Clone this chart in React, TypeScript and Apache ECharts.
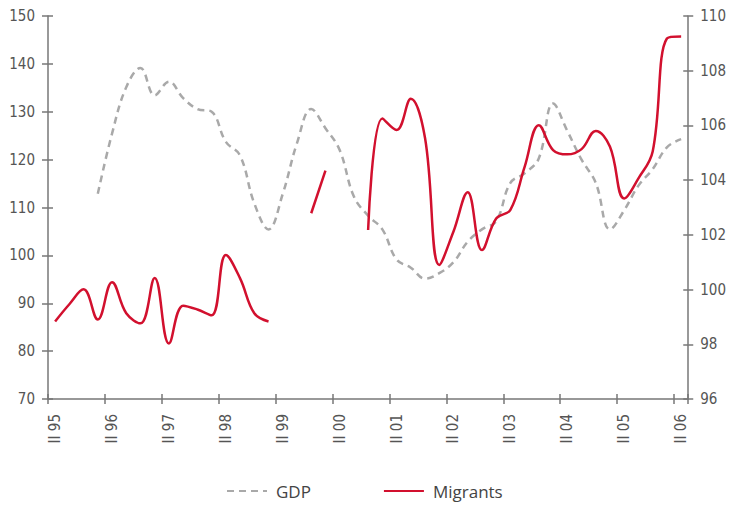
import React, { useEffect, useRef } from "react";
import * as echarts from "echarts";

const categories = [
  "II 95", "III 95", "IV 95", "I 96",
  "II 96", "III 96", "IV 96", "I 97",
  "II 97", "III 97", "IV 97", "I 98",
  "II 98", "III 98", "IV 98", "I 99",
  "II 99", "III 99", "IV 99", "I 00",
  "II 00", "III 00", "IV 00", "I 01",
  "II 01", "III 01", "IV 01", "I 02",
  "II 02", "III 02", "IV 02", "I 03",
  "II 03", "III 03", "IV 03", "I 04",
  "II 04", "III 04", "IV 04", "I 05",
  "II 05", "III 05", "IV 05", "I 06",
  "II 06",
];

// Migrants index (left axis)
const migrants = [
  86.2, 89.8, 92.9, 86.6,
  94.4, 87.9, 85.8, 95.3,
  81.6, 89.5, 88.7, 87.5,
  100.1, 95.2, 87.9, 86.2,
  null, null, 108.8, 117.7,
  null, null, 105.3, 128.6,
  126.2, 132.7, 124.5, 98.0,
  105.0, 113.2, 101.1, 107.7,
  109.5, 118.5, 127.2, 122.0,
  121.1, 122.2, 126.0, 122.7,
  111.9, 116.1, 121.7, 145.3,
  145.7,
];

// GDP index (right axis)
const gdp = [
  null, null, null, 103.5,
  105.7, 107.4, 108.1, 107.1,
  107.6, 107.0, 106.6, 106.5,
  105.4, 104.9, 103.15, 102.2,
  103.5, 105.35, 106.6, 105.9,
  105.1, 103.4, 102.7, 102.2,
  101.1, 100.8, 100.4, 100.6,
  101.0, 101.75, 102.2, 102.5,
  103.9, 104.25, 104.8, 106.8,
  105.8, 104.75, 103.9, 102.2,
  102.9, 103.8, 104.4, 105.2,
  105.5,
];

const leftTicks = { min: 70, max: 150, interval: 10 };
const rightTicks = { min: 96, max: 110, interval: 2 };

const AXIS_COLOR = "#777777";
const TEXT_COLOR = "#555555";
const AXIS_FONT = "'Liberation Sans Narrow', 'DejaVu Sans Condensed', 'Liberation Sans', sans-serif";
const LEGEND_FONT = "'Open Sans', 'Noto Sans', sans-serif";

export default function App() {
  const ref = useRef<HTMLDivElement>(null);

  useEffect(() => {
    if (!ref.current) return;
    const chart = echarts.init(ref.current, undefined, { renderer: "svg" });
    const lineAxis = { show: true, lineStyle: { color: AXIS_COLOR, width: 1.5 } };
    chart.setOption({
      animation: false,
      backgroundColor: "#ffffff",
      grid: { left: 48, right: 38, top: 16, bottom: 106, containLabel: false },
      legend: {
        left: 221,
        top: 477,
        itemWidth: 40,
        itemHeight: 14,
        itemGap: 72,
        itemStyle: { opacity: 0 },
        textStyle: {
          fontFamily: LEGEND_FONT,
          fontSize: 17,
          lineHeight: 18,
          color: "#444444",
          padding: [0, 0, 0, 4],
        },
        data: ["GDP", "Migrants"],
      },
      xAxis: [
        {
          type: "category",
          data: categories,
          boundaryGap: true,
          position: "bottom",
          axisLine: lineAxis,
          axisTick: {
            show: true,
            interval: 3,
            length: 5,
            lineStyle: { color: AXIS_COLOR, width: 1.5 },
          },
          axisLabel: {
            interval: 3,
            rotate: 90,
            margin: 15,
            color: TEXT_COLOR,
            fontFamily: AXIS_FONT,
            fontSize: 15,
          },
          splitLine: { show: false },
        },
        {
          type: "category",
          data: categories,
          boundaryGap: true,
          position: "bottom",
          axisLine: { show: false },
          axisTick: {
            show: true,
            inside: true,
            interval: 3,
            length: 5,
            lineStyle: { color: AXIS_COLOR, width: 1.5 },
          },
          axisLabel: { show: false },
          splitLine: { show: false },
        },
      ],
      yAxis: [
        {
          type: "value",
          position: "left",
          ...leftTicks,
          axisLine: lineAxis,
          axisTick: { show: true, length: 6, lineStyle: { color: AXIS_COLOR, width: 1.5 } },
          axisLabel: { margin: 13, color: TEXT_COLOR, fontFamily: AXIS_FONT, fontSize: 15 },
          splitLine: { show: false },
        },
        {
          type: "value",
          position: "right",
          ...rightTicks,
          axisLine: lineAxis,
          axisTick: { show: true, length: 5, lineStyle: { color: AXIS_COLOR, width: 1.5 } },
          axisLabel: { margin: 12, color: TEXT_COLOR, fontFamily: AXIS_FONT, fontSize: 15 },
          splitLine: { show: false },
        },
        {
          type: "value",
          position: "left",
          ...leftTicks,
          axisLine: { show: false },
          axisTick: { show: true, inside: true, length: 5, lineStyle: { color: AXIS_COLOR, width: 1.5 } },
          axisLabel: { show: false },
          splitLine: { show: false },
        },
        {
          type: "value",
          position: "right",
          ...rightTicks,
          axisLine: { show: false },
          axisTick: { show: true, inside: true, length: 5, lineStyle: { color: AXIS_COLOR, width: 1.5 } },
          axisLabel: { show: false },
          splitLine: { show: false },
        },
      ],
      series: [
        {
          name: "GDP",
          type: "line",
          xAxisIndex: 0,
          yAxisIndex: 1,
          data: gdp,
          smooth: 0.4,
          symbol: "none",
          connectNulls: false,
          lineStyle: { color: "#a9a9a9", width: 2.5, type: [7, 5] },
          itemStyle: { color: "#a9a9a9" },
          z: 2,
        },
        {
          name: "Migrants",
          type: "line",
          xAxisIndex: 0,
          yAxisIndex: 0,
          data: migrants,
          smooth: 0.4,
          symbol: "none",
          connectNulls: false,
          lineStyle: { color: "#d2102e", width: 2.5 },
          itemStyle: { color: "#d2102e" },
          z: 3,
        },
      ],
    });
    return () => chart.dispose();
  }, []);

  return (
    <div
      ref={ref}
      style={{ position: "fixed", left: 0, top: 0, width: 729, height: 505, background: "#fff" }}
    />
  );
}
